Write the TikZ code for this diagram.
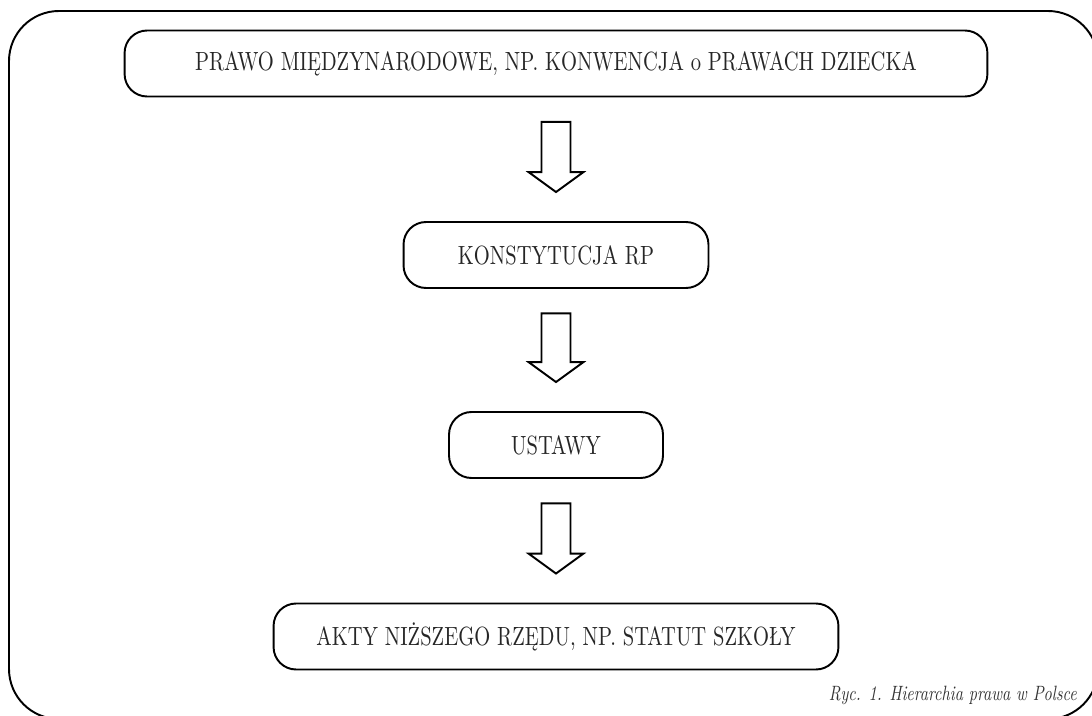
\documentclass[tikz,border=0pt]{standalone}
\usepackage{fontspec}
\setmainfont{lmroman10-regular.otf}[ItalicFont=lmroman10-italic.otf,FakeStretch=0.78]
\usetikzlibrary{calc}

\tikzset{
  levelbox/.style={draw, line width=1.1pt, rounded corners=0.45cm, minimum height=1.32cm, inner sep=0pt, font=\fontsize{15}{18}\selectfont, text=black!85},
  blockarrow/.style={draw, line width=1.1pt, line join=miter}
}

\begin{document}
\begin{tikzpicture}[x=0.02cm, y=-0.02cm]
\useasboundingbox (0,0) rectangle (1092,716);
\clip (0,0) rectangle (1092,716);
% outer frame
\draw[line width=1.1pt, rounded corners=1cm] (9,11) rectangle (1098,719);

\node[levelbox, minimum width=17.26cm] (prawo) at (556,63.5) {PRAWO MIĘDZYNARODOWE, NP. KONWENCJA o PRAWACH DZIECKA};
\node[levelbox, minimum width=6.1cm] (konst) at (556,255) {KONSTYTUCJA RP};
\node[levelbox, minimum width=4.28cm] (ustawy) at (556,445) {USTAWY};
\node[levelbox, minimum width=11.3cm] (akty) at (556,636.5) {AKTY NIŻSZEGO RZĘDU, NP. STATUT SZKOŁY};

% block arrows between levels
\foreach \a/\b in {prawo/konst, konst/ustawy, ustawy/akty}
  \draw[blockarrow] ($(\a.south)+(-14.5,24.5)$) -- ($(\a.south)+(14.5,24.5)$) -- ($(\b.north)+(14.5,-49)$) -- ($(\b.north)+(27.5,-49)$) -- ($(\b.north)+(0,-29)$) -- ($(\b.north)+(-27.5,-49)$) -- ($(\b.north)+(-14.5,-49)$) -- cycle;

\node[anchor=base east, font=\itshape\fontsize{11.8}{14}\selectfont, text=black!80] (ryc) at (1083,700) {Ryc. 1. Hierarchia prawa w Polsce};
\end{tikzpicture}
\end{document}
